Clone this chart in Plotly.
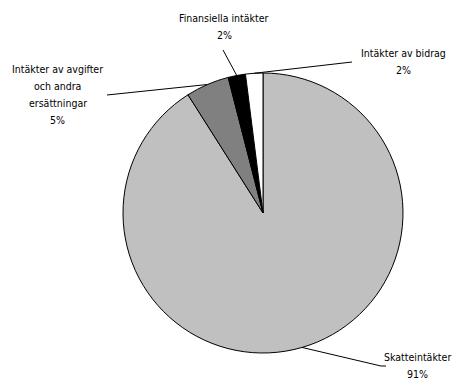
import math
import plotly.graph_objects as go

# Data
categories = ["Skatteintäkter", "Intäkter av avgifter och andra ersättningar",
              "Finansiella intäkter", "Intäkter av bidrag"]
values = [91, 5, 2, 2]
label_lines = [["Skatteintäkter", "91%"],
               ["Intäkter av avgifter", "och andra", "ersättningar", "5%"],
               ["Finansiella intäkter", "2%"],
               ["Intäkter av bidrag", "2%"]]
colors = ["#c0c0c0", "#808080", "#000000", "#ffffff"]

# Layout constants (pixels)
W, H = 455, 380
CX, CY, R = 263, 213, 140
# label first-line centers and leader-line text-side endpoints
label_pos = [(417, 357), (58, 69), (224, 18), (403, 53)]
leader_end = [[(381, 366), (386, 366)], [(107, 95)], [(223, 50)], [(352, 62)]]
LINE_H = 17
FONT = "Liberation Sans Narrow, Arial Narrow, DejaVu Sans Condensed, sans-serif"

def px(x):
    return x / W

def py(y):
    return 1 - y / H

fig = go.Figure(go.Pie(
    labels=categories, values=values, sort=False, direction="clockwise", rotation=0,
    marker=dict(colors=colors, line=dict(color="#000000", width=1)),
    textinfo="none", hoverinfo="label+percent", showlegend=False,
    domain=dict(x=[px(CX - R), px(CX + R)], y=[py(CY + R), py(CY - R)]),
))

total = sum(values)
cum = 0
shapes = []
annotations = []
for i, v in enumerate(values):
    mid = (cum + v / 2) / total
    cum += v
    a = 2 * math.pi * mid
    sx = CX + R * math.sin(a)
    sy = CY - R * math.cos(a)
    pts = [(sx, sy)] + leader_end[i]
    path = "M " + " L ".join(f"{px(x)},{py(y)}" for x, y in pts)
    shapes.append(dict(type="path", xref="paper", yref="paper", path=path,
                       line=dict(color="#000000", width=1)))
    lx, ly = label_pos[i]
    for j, t in enumerate(label_lines[i]):
        annotations.append(dict(text=t, x=px(lx), y=py(ly + j * LINE_H), xref="paper", yref="paper",
                                showarrow=False, xanchor="center", yanchor="middle",
                                font=dict(family=FONT, size=10.5, color="#000000")))

fig.update_layout(width=W, height=H, margin=dict(l=0, r=0, t=0, b=0),
                  paper_bgcolor="white", plot_bgcolor="white",
                  shapes=shapes, annotations=annotations)
fig.write_html("out.html")
